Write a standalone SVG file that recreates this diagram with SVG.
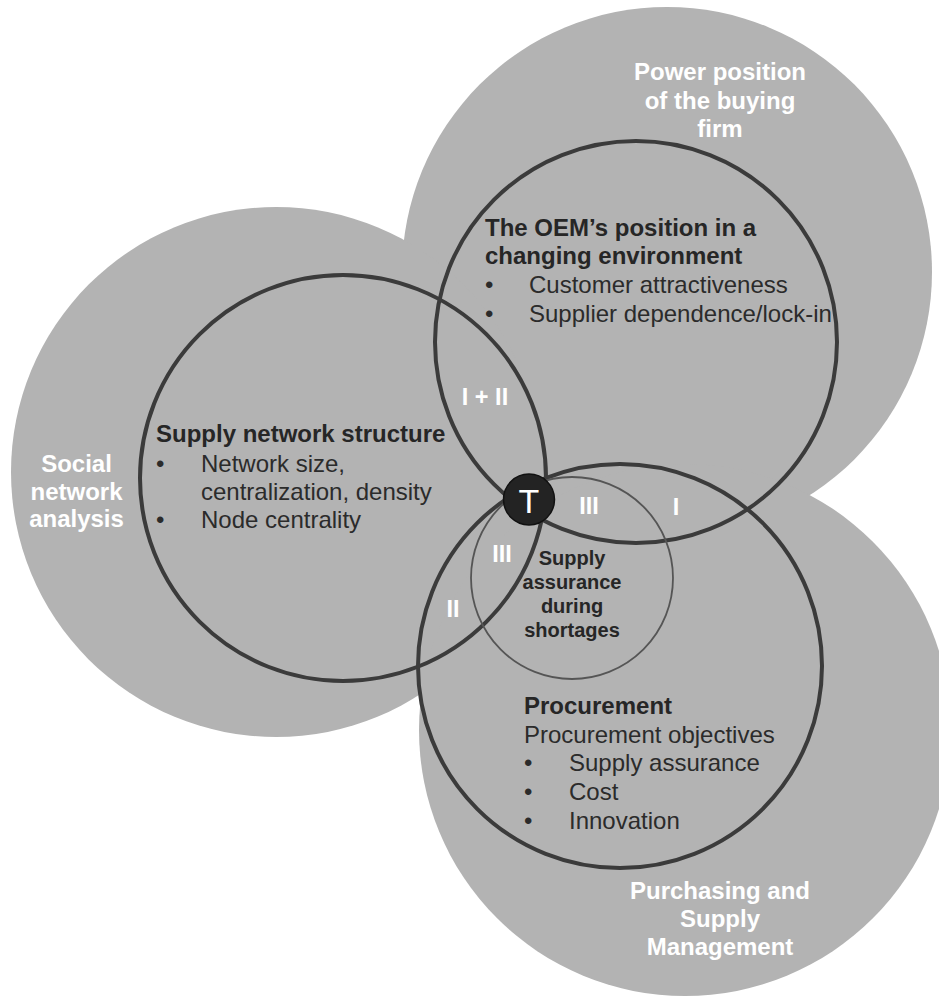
<svg xmlns="http://www.w3.org/2000/svg" width="939" height="998" viewBox="0 0 939 998">
  <style>
    .field { fill: #b3b3b3; }
    .ring { fill: none; stroke: #3b3b3b; stroke-width: 4; }
    .inner { fill: none; stroke: #555555; stroke-width: 1.8; }
    text { font-family: "Liberation Sans", Arial, Helvetica, sans-serif; }
    .lbl { fill: #ffffff; font-weight: bold; font-size: 24px; text-anchor: middle; }
    .hd { fill: #262626; font-weight: bold; font-size: 24px; }
    .tx { fill: #2b2b2b; font-size: 24px; }
    .num { fill: #ffffff; font-weight: bold; font-size: 23.5px; text-anchor: middle; }
    .core { fill: #262626; font-weight: bold; font-size: 20px; text-anchor: middle; }
  </style>
  <rect width="939" height="998" fill="#ffffff"/>

  <!-- research fields (large grey discs) -->
  <g id="field-power">
    <circle class="field" cx="667" cy="272" r="265"/>
    <text class="lbl" x="720" y="80">Power position</text>
    <text class="lbl" x="720" y="108.5">of the buying</text>
    <text class="lbl" x="720" y="137">firm</text>
  </g>
  <g id="field-sna">
    <circle class="field" cx="276" cy="472" r="265"/>
    <text class="lbl" x="76.5" y="472">Social</text>
    <text class="lbl" x="76.5" y="500">network</text>
    <text class="lbl" x="76.5" y="527">analysis</text>
  </g>
  <g id="field-psm">
    <circle class="field" cx="685" cy="730" r="266"/>
    <text class="lbl" x="720" y="899">Purchasing and</text>
    <text class="lbl" x="720" y="927">Supply</text>
    <text class="lbl" x="720" y="955">Management</text>
  </g>

  <!-- topic rings -->
  <g id="ring-network">
    <circle class="ring" cx="343" cy="478" r="203"/>
    <text class="hd" x="156" y="442">Supply network structure</text>
    <text class="tx" x="156" y="472">•</text>
    <text class="tx" x="201" y="472">Network size,</text>
    <text class="tx" x="201" y="500">centralization, density</text>
    <text class="tx" x="156" y="528">•</text>
    <text class="tx" x="201" y="528">Node centrality</text>
  </g>
  <g id="ring-oem">
    <circle class="ring" cx="636" cy="342" r="201"/>
    <text class="hd" x="485" y="236">The OEM’s position in a</text>
    <text class="hd" x="485" y="264">changing environment</text>
    <text class="tx" x="485" y="293">•</text>
    <text class="tx" x="529" y="293">Customer attractiveness</text>
    <text class="tx" x="485" y="322">•</text>
    <text class="tx" x="529" y="322">Supplier dependence/lock-in</text>
  </g>
  <g id="ring-procurement">
    <circle class="ring" cx="620" cy="666" r="202"/>
    <text class="hd" x="524" y="714">Procurement</text>
    <text class="tx" x="524" y="743">Procurement objectives</text>
    <text class="tx" x="524" y="771">•</text>
    <text class="tx" x="569" y="771">Supply assurance</text>
    <text class="tx" x="524" y="800">•</text>
    <text class="tx" x="569" y="800">Cost</text>
    <text class="tx" x="524" y="829">•</text>
    <text class="tx" x="569" y="829">Innovation</text>
  </g>

  <!-- central topic -->
  <g id="core-assurance">
    <circle class="inner" cx="572" cy="578" r="101"/>
    <text class="core" x="572" y="565">Supply</text>
    <text class="core" x="572" y="589">assurance</text>
    <text class="core" x="572" y="613">during</text>
    <text class="core" x="572" y="637">shortages</text>
  </g>

  <!-- overlap labels -->
  <g id="overlaps">
    <text class="num" x="485" y="405">I + II</text>
    <text class="num" x="589" y="514">III</text>
    <text class="num" x="676" y="515">I</text>
    <text class="num" x="502" y="562">III</text>
    <text class="num" x="453" y="617">II</text>
  </g>

  <!-- T marker at the common intersection -->
  <g id="marker-t">
    <circle cx="529" cy="499.5" r="25.5" fill="#232323" stroke="#111111" stroke-width="1.5"/>
    <text x="529" y="512.5" fill="#ffffff" font-size="34" text-anchor="middle">T</text>
  </g>
</svg>
